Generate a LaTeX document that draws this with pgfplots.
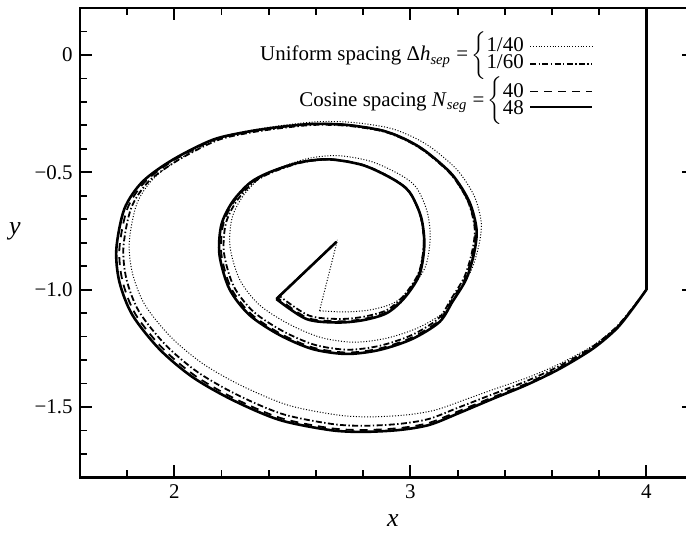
\documentclass[border=0pt]{standalone}
\usepackage{fontspec}
\setmainfont{Liberation Serif}
\usepackage{pgfplots}
\pgfplotsset{compat=1.18}

\tikzset{
  sheet48/.style={black, line width=1.3bp, line join=round},
  sheet40/.style={black, line width=0.9bp, dash pattern=on 4bp off 3bp},
  sheet60/.style={black, line width=0.9bp, dash pattern=on 3bp off 1.2bp on 0.7bp off 1.2bp},
  sheet40u/.style={black, line width=0.5bp, dash pattern=on 0.5bp off 0.9bp},
}

\begin{document}
\fontsize{10.5}{12.6}\selectfont
\begin{tikzpicture}
\begin{axis}[
  name=ax,
  scale only axis,
  width=306.8bp, height=234.7bp,
  xmin=1.6, xmax=4.2, ymin=-1.8, ymax=0.2,
  axis line style={line width=1.1bp},
  xtick={2,3,4}, xticklabels={2,3,4},
  minor xtick={1.8,2.2,2.4,2.6,2.8,3.2,3.4,3.6,3.8},
  ytick={-1.5,-1,-0.5,0}, yticklabels={−1.5,−1.0,−0.5,0},
  minor ytick={-1.7,-1.6,-1.4,-1.3,-1.2,-1.1,-0.9,-0.8,-0.7,-0.6,-0.4,-0.3,-0.2,-0.1,0.1},
  tick align=inside,
  major tick length=6bp, minor tick length=3.5bp,
  major tick style={line width=1bp, black},
  minor tick style={line width=0.9bp, black},
  tick label style={font=\fontsize{10.5}{12.6}\selectfont},
  xlabel={\fontsize{13}{15}\selectfont\textit{x}},
  ylabel={\fontsize{13}{15}\selectfont\textit{y}},
  xlabel style={at={(axis description cs:0.51,-0.092)}, anchor=center},
  ylabel style={rotate=-90, at={(axis description cs:-0.106,0.525)}, anchor=center},
]

% the plate, shared by every sheet
\addplot[sheet48] coordinates {(4.000,0.200) (4.000,-1.000)};

% uniform spacing, dh_sep = 1/40
\addplot[sheet40u, smooth, tension=0.5] coordinates {
(4.000,-1.000) (3.942,-1.078) (3.874,-1.158) (3.774,-1.238) (3.636,-1.314)
(3.501,-1.373) (3.361,-1.422) (3.228,-1.470) (3.106,-1.513) (2.981,-1.534) (2.828,-1.542)
(2.691,-1.534) (2.484,-1.493) (2.290,-1.412) (2.124,-1.318) (1.987,-1.204) (1.875,-1.065)
(1.822,-0.929) (1.809,-0.795) (1.842,-0.631) (1.917,-0.521) (2.042,-0.431) (2.207,-0.349)
(2.347,-0.317) (2.484,-0.297) (2.621,-0.284) (2.762,-0.288) (2.910,-0.311) (3.007,-0.348)
(3.093,-0.398) (3.200,-0.492) (3.271,-0.602) (3.300,-0.713) (3.291,-0.807) (3.258,-0.917)
(3.200,-1.011) (3.147,-1.093) (3.034,-1.162) (2.899,-1.207) (2.762,-1.224) (2.621,-1.204)
(2.484,-1.146) (2.360,-1.065) (2.277,-0.958) (2.236,-0.819) (2.244,-0.696) (2.290,-0.602)
(2.362,-0.525) (2.443,-0.482) (2.567,-0.441) (2.691,-0.429) (2.831,-0.453) (2.952,-0.508)
(3.023,-0.562) (3.070,-0.664) (3.084,-0.779) (3.064,-0.901) (3.002,-0.995) (2.929,-1.057)
(2.831,-1.086) (2.724,-1.095) (2.615,-1.090)
};
\addplot[sheet40u] coordinates {(2.615,-1.090) (2.691,-0.788)};

% uniform spacing, dh_sep = 1/60
\addplot[sheet60, smooth, tension=0.5] coordinates {
(4.000,-1.000) (3.939,-1.081) (3.868,-1.164) (3.765,-1.248) (3.624,-1.329)
(3.484,-1.393) (3.340,-1.449) (3.202,-1.503) (3.078,-1.551) (2.953,-1.572) (2.801,-1.580)
(2.665,-1.572) (2.458,-1.530) (2.264,-1.447) (2.098,-1.351) (1.962,-1.235) (1.850,-1.093)
(1.797,-0.956) (1.784,-0.819) (1.817,-0.652) (1.891,-0.539) (2.016,-0.448) (2.181,-0.364)
(2.321,-0.331) (2.458,-0.311) (2.594,-0.298) (2.735,-0.302) (2.882,-0.325) (2.980,-0.363)
(3.065,-0.414) (3.173,-0.510) (3.243,-0.622) (3.272,-0.735) (3.263,-0.831) (3.230,-0.943)
(3.173,-1.039) (3.119,-1.123) (3.007,-1.193) (2.871,-1.239) (2.735,-1.256) (2.594,-1.235)
(2.458,-1.176) (2.334,-1.093) (2.251,-0.985) (2.210,-0.843) (2.218,-0.718) (2.264,-0.622)
(2.336,-0.543) (2.417,-0.499) (2.541,-0.458) (2.665,-0.446) (2.804,-0.470) (2.925,-0.527)
(2.995,-0.581) (3.043,-0.685) (3.057,-0.802) (3.036,-0.926) (2.975,-1.022) (2.902,-1.086)
(2.804,-1.115) (2.697,-1.125) (2.569,-1.110) (2.445,-1.027)
};
\addplot[sheet60] coordinates {(2.445,-1.027) (2.688,-0.795)};

% cosine spacing, N_seg = 40
\addplot[sheet40, smooth, tension=0.5] coordinates {
(4.000,-1.000) (3.940,-1.082) (3.871,-1.166) (3.768,-1.251) (3.627,-1.335)
(3.488,-1.402) (3.343,-1.461) (3.204,-1.518) (3.078,-1.568) (2.952,-1.590) (2.798,-1.598)
(2.659,-1.590) (2.450,-1.547) (2.253,-1.463) (2.085,-1.365) (1.947,-1.247) (1.834,-1.103)
(1.780,-0.963) (1.767,-0.824) (1.801,-0.654) (1.876,-0.540) (2.002,-0.446) (2.169,-0.362)
(2.312,-0.328) (2.450,-0.307) (2.588,-0.294) (2.731,-0.298) (2.880,-0.321) (2.979,-0.359)
(3.066,-0.412) (3.174,-0.510) (3.245,-0.624) (3.275,-0.738) (3.266,-0.836) (3.233,-0.950)
(3.174,-1.047) (3.120,-1.133) (3.006,-1.204) (2.869,-1.251) (2.731,-1.268) (2.588,-1.247)
(2.450,-1.188) (2.324,-1.103) (2.240,-0.993) (2.199,-0.849) (2.207,-0.721) (2.253,-0.624)
(2.326,-0.544) (2.408,-0.499) (2.534,-0.457) (2.659,-0.444) (2.801,-0.469) (2.923,-0.527)
(2.994,-0.582) (3.043,-0.688) (3.057,-0.807) (3.036,-0.933) (2.974,-1.031) (2.900,-1.095)
(2.801,-1.125) (2.692,-1.135) (2.563,-1.120) (2.437,-1.035)
};
\addplot[sheet40] coordinates {(2.437,-1.035) (2.687,-0.796)};

% cosine spacing, N_seg = 48
\addplot[sheet48, smooth, tension=0.5] coordinates {
(4.000,-1.000) (3.941,-1.082) (3.873,-1.167) (3.771,-1.253) (3.631,-1.338)
(3.492,-1.406) (3.347,-1.466) (3.208,-1.525) (3.081,-1.576) (2.953,-1.598) (2.797,-1.606)
(2.657,-1.598) (2.445,-1.555) (2.246,-1.470) (2.076,-1.372) (1.936,-1.253) (1.822,-1.108)
(1.767,-0.967) (1.754,-0.827) (1.788,-0.656) (1.864,-0.541) (1.992,-0.447) (2.161,-0.362)
(2.305,-0.328) (2.445,-0.307) (2.585,-0.294) (2.729,-0.298) (2.880,-0.322) (2.980,-0.360)
(3.068,-0.413) (3.178,-0.511) (3.250,-0.626) (3.280,-0.741) (3.271,-0.839) (3.237,-0.954)
(3.178,-1.052) (3.123,-1.138) (3.008,-1.210) (2.869,-1.257) (2.729,-1.274) (2.585,-1.253)
(2.445,-1.193) (2.318,-1.108) (2.233,-0.997) (2.191,-0.852) (2.199,-0.724) (2.246,-0.626)
(2.320,-0.545) (2.403,-0.500) (2.530,-0.458) (2.657,-0.445) (2.800,-0.470) (2.924,-0.528)
(2.996,-0.584) (3.045,-0.690) (3.059,-0.810) (3.038,-0.937) (2.975,-1.035) (2.900,-1.100)
(2.800,-1.130) (2.690,-1.140) (2.559,-1.125) (2.432,-1.040)
};
\addplot[sheet48] coordinates {(2.432,-1.040) (2.686,-0.797)};

% key
\node[anchor=east, inner sep=0pt, font=\fontsize{10.5}{12.5}\selectfont] at (axis cs:3.492,-0.002)
  {Uniform spacing Δ\textit{h}\textsubscript{\textit{sep}} =\,$\left\{\begin{tabular}{@{}l@{}}1/40\\[-4pt]1/60\end{tabular}\right.$};
\node[anchor=east, inner sep=0pt, font=\fontsize{10.5}{12.5}\selectfont] at (axis cs:3.492,-0.195)
  {Cosine spacing \textit{N}\textsubscript{\textit{seg}} =\,$\left\{\begin{tabular}{@{}l@{}}40\\[-4pt]48\end{tabular}\right.$};
\draw[sheet40u] (axis cs:3.508,0.035) -- (axis cs:3.771,0.035);
\draw[sheet60] (axis cs:3.508,-0.038) -- (axis cs:3.771,-0.038);
\draw[sheet40] (axis cs:3.508,-0.156) -- (axis cs:3.771,-0.156);
\draw[sheet48] (axis cs:3.508,-0.222) -- (axis cs:3.771,-0.222);
\end{axis}
\pgfresetboundingbox
\path[use as bounding box] ([xshift=-40bp,yshift=-28bp]ax.south west)
  rectangle ([xshift=303bp,yshift=4bp]ax.north west);
\end{tikzpicture}
\end{document}
